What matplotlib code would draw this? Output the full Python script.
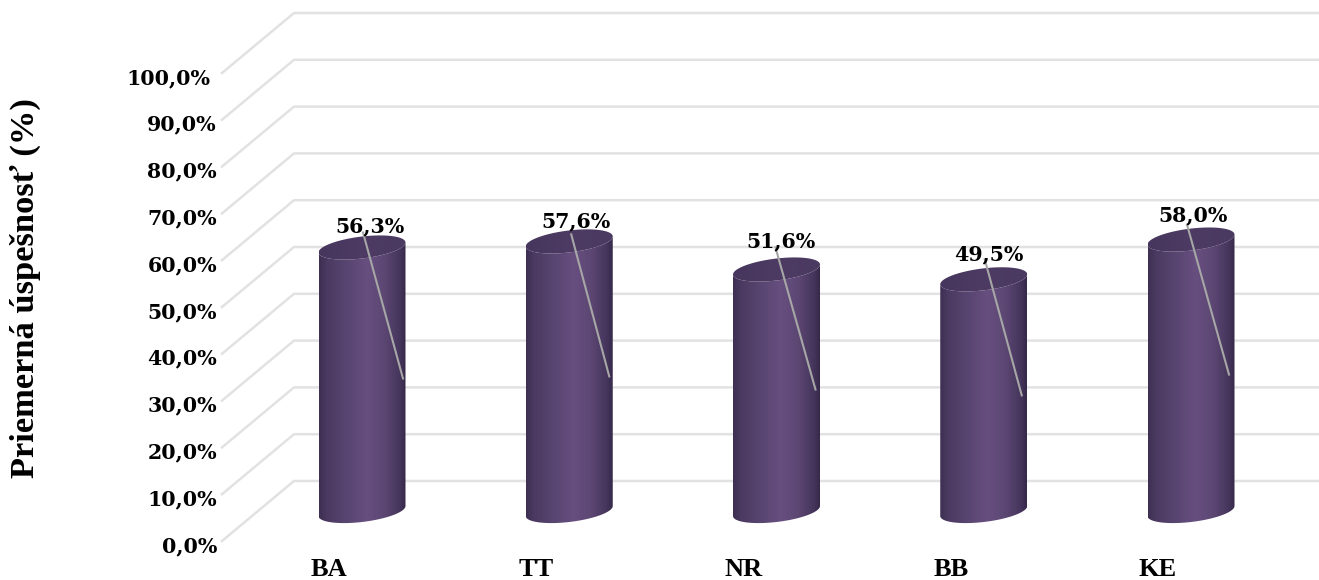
import numpy as np
import matplotlib
matplotlib.use('Agg')
import matplotlib.pyplot as plt
from matplotlib.patches import PathPatch
from matplotlib.path import Path
from matplotlib.colors import LinearSegmentedColormap

# Data
regions = ['BA', 'TT', 'NR', 'BB', 'KE']
scores = [56.3, 57.6, 51.6, 49.5, 58.0]
score_labels = ['56,3%', '57,6%', '51,6%', '49,5%', '58,0%']
grid_values = [0, 10, 20, 30, 40, 50, 60, 70, 80, 90, 100]
grid_labels = ['0,0%', '10,0%', '20,0%', '30,0%', '40,0%', '50,0%',
               '60,0%', '70,0%', '80,0%', '90,0%', '100,0%']

# Layout, pixels per data unit
PX_X = 207.25
PX_Y = 4.68
W, H = 1319, 580
X0, Y0 = 362, 511

# label and leader line offsets from the top of each bar, in pixels
label_dx = [8, 7, 4, 5, 2]
label_dy = [21, 20, 28, 25, 24]
leader_x0 = [1, 2, -1, 1, -4]
leader_y0 = [15, 7, 22, 20, 15]
leader_x1 = [41, 40, 39, 38, 38]
leader_y1 = [-131, -135, -120, -116, -135]

serif = 'Liberation Serif'
num_serif = 'DejaVu Serif'

fig = plt.figure(figsize=(W / 100, H / 100), dpi=100)
ax = fig.add_axes([0, 0, 1, 1])
ax.set_xlim(-X0 / PX_X, (W - X0) / PX_X)
ax.set_ylim((Y0 - H) / PX_Y, Y0 / PX_Y)
ax.axis('off')

# Back wall and side wall gridlines
for v in grid_values:
    ax.plot([(222 - X0) / PX_X, (294 - X0) / PX_X, (W - X0) / PX_X],
            [v - 30 / PX_Y, v + 30 / PX_Y, v + 30 / PX_Y],
            color='#e2e2e2', lw=1.8, solid_joinstyle='round', zorder=1)

# Tick labels
for v, lab in zip(grid_values, grid_labels):
    right = 210 if v == 100 else 217
    ax.text((right - X0) / PX_X, v - 35 / PX_Y, lab,
            ha='right', va='center', family=num_serif, weight='bold',
            fontsize=14.8, color='black', zorder=5)

body_cmap = LinearSegmentedColormap.from_list(
    'body', [(0, '#3d2f52'), (0.1, '#4c3a62'), (0.3, '#57446f'),
             (0.55, '#674f80'), (0.75, '#5c4773'), (0.93, '#45355c'), (1, '#36294a')])
top_cmap = LinearSegmentedColormap.from_list(
    'top', ['#46355c', '#4d3b64', '#4a3960'])

half_w = 43.5 / PX_X
tilt = 10 / PX_Y   # right side sits higher than the left side, in data units
semi_b = 11 / PX_Y
t = np.linspace(0, 2 * np.pi, 121)
grad = np.linspace(0, 1, 256).reshape(1, -1)

for i, (name, val, lab) in enumerate(zip(regions, scores, score_labels)):
    # cylinder body: top half-ellipse front, side, bottom arc
    tb = np.linspace(np.pi, 2 * np.pi, 61)
    ex = i + half_w * np.cos(tb)
    skew = tilt * np.cos(tb) / 2
    low = skew + semi_b * np.sin(tb)
    verts = np.vstack([np.column_stack([ex, low]),
                       np.column_stack([ex[::-1], val + skew[::-1] + semi_b * np.sin(tb[::-1])])])
    verts = np.vstack([verts, verts[0]])
    body = PathPatch(Path(verts), fc='none', ec='none', transform=ax.transData)
    ax.add_patch(body)
    im = ax.imshow(grad, extent=[i - half_w, i + half_w, -5, val + 5], aspect='auto',
                   cmap=body_cmap, vmin=0, vmax=1, zorder=3)
    im.set_clip_path(body)

    # top ellipse
    tx = i + half_w * np.cos(t)
    ty = val + tilt * np.cos(t) / 2 + semi_b * np.sin(t)
    cap = PathPatch(Path(np.column_stack([tx, ty])), fc='none', ec='none', transform=ax.transData)
    ax.add_patch(cap)
    im2 = ax.imshow(grad, extent=[i - half_w, i + half_w, val - 5, val + 5], aspect='auto',
                    cmap=top_cmap, vmin=0, vmax=1, zorder=3.1)
    im2.set_clip_path(cap)

    # Leader line
    ax.plot([i + leader_x0[i] / PX_X, i + leader_x1[i] / PX_X],
            [val + leader_y0[i] / PX_Y, val + leader_y1[i] / PX_Y],
            color='#a6a6a6', lw=1.5, zorder=4)

    # Value label
    ax.text(i + label_dx[i] / PX_X, val + label_dy[i] / PX_Y, lab, ha='center', va='center',
            family=num_serif, weight='bold', fontsize=14.8, color='black', zorder=5)

    # Category label
    ax.text(i - 33 / PX_X, (Y0 - 570) / PX_Y, name, ha='center', va='center',
            family=serif, weight='bold', fontsize=19, color='black', zorder=5)

ax.set_xlim(-X0 / PX_X, (W - X0) / PX_X)
ax.set_ylim((Y0 - H) / PX_Y, Y0 / PX_Y)

# Axis title
ax.text((25 - X0) / PX_X, (Y0 - 288) / PX_Y, 'Priemerná úspešnosť (%)', rotation=90,
        ha='center', va='center', family=serif, weight='bold', fontsize=24.8, color='black')

fig.savefig('out.png', dpi=100)
